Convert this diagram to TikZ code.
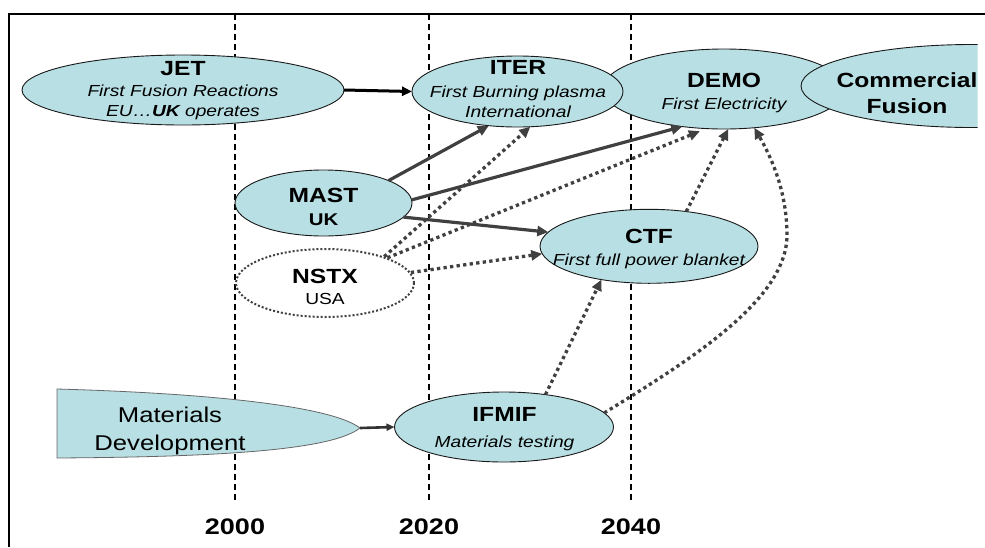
\documentclass[tikz,border=0pt]{standalone}
\usepackage{fontspec}
\setmainfont[FakeStretch=1.2]{Liberation Sans}
\usetikzlibrary{arrows.meta,shapes.geometric}
\definecolor{blobfill}{RGB}{184,224,228}
\definecolor{arrgray}{RGB}{64,64,64}
\newcommand\hd[1]{{\fontsize{20.5}{24}\selectfont\bfseries\upshape #1}}
\tikzset{
  blob/.style={ellipse, draw=black!90, line width=0.9pt, fill=blobfill, inner sep=0pt, outer sep=0pt},
  lbl/.style={align=center, inner sep=0pt, outer sep=0pt, font=\fontsize{16}{20}\selectfont\itshape},
  solidarr/.style={draw=arrgray, line width=3.2pt, -{Triangle[length=11pt,width=10pt]}},
  dotarr/.style={draw=arrgray, line width=3.3pt, dash pattern=on 3.3pt off 3.3pt, -{Triangle[length=11pt,width=10pt]}},
  gridline/.style={draw=black, line width=1.2pt, dash pattern=on 6pt off 4pt},
  yearlbl/.style={inner sep=0pt, font=\fontsize{22.5}{27}\selectfont\bfseries},
  framel/.style={draw=black, line width=2pt}
}
\begin{document}
\begin{tikzpicture}[x=1pt,y=-1pt]
\useasboundingbox (0,0) rectangle (985,547);
% frame
\draw[framel] (9,547) -- (9,14) -- (985,14);
% time grid
\draw[gridline] (235,14) -- (235,502);
\draw[gridline] (429,14) -- (429,502);
\draw[gridline] (631,14) -- (631,502);
\node[yearlbl] (y2000) at (235,527) {2000};
\node[yearlbl] (y2020) at (429,527) {2020};
\node[yearlbl] (y2040) at (631,527) {2040};

% top row
\node[blob, minimum width=242, minimum height=80] (demo) at (724,89) {};
\node[blob, minimum width=211, minimum height=71] (iter) at (517.5,91.5) {};
\begin{scope}
  \clip (790,30) rectangle (977.5,140);
  \node[blob, minimum width=342, minimum height=83] (comm) at (972,86) {};
\end{scope}
\node[blob, minimum width=322, minimum height=70] (jet) at (183,90) {};

% middle
\node[blob, minimum width=177, minimum height=66] (mast) at (323.5,203) {};
\node[ellipse, draw=arrgray, line width=2pt, dash pattern=on 2pt off 2pt, fill=white,
      inner sep=0pt, minimum width=178, minimum height=68] (nstx) at (325,283) {};
\node[blob, minimum width=218, minimum height=74] (ctf) at (649,246.3) {};

% bottom
\node[blob, minimum width=219, minimum height=70] (ifmif) at (504,427) {};
\fill[blobfill, draw=black!60, line width=0.8pt]
  (57,389) .. controls (200,393) and (330,405) .. (360,428)
  .. controls (330,452) and (200,457) .. (57,458) -- cycle;
\coordinate (mattip) at (360,428);

% texts
\node[lbl] (jett) at (183,90.3) {\hd{JET}\\[1.2pt]First Fusion Reactions\\EU…{\bfseries UK} operates};
\node[lbl] (itert) at (518,89) {\hd{ITER}\\[2.2pt]First Burning plasma\\International};
\node[lbl] (demot) at (724,92.7) {\hd{DEMO}\\[2.2pt]First Electricity};
\node[align=center, inner sep=0pt, font=\fontsize{20.5}{26}\selectfont\bfseries] (commt) at (907,93) {Commercial\\Fusion};
\node[lbl] (mastt) at (323.5,207.3) {\hd{MAST}\\[2.8pt]{\fontsize{17}{20}\selectfont\bfseries\upshape UK}};
\node[lbl] (nstxt) at (325,286.7) {\hd{NSTX}\\[1.4pt]{\upshape USA}};
\node[lbl] (ctft) at (649,248.8) {\hd{CTF}\\[2.2pt]First full power blanket};
\node[lbl] (ifmift) at (504.5,428.8) {\hd{IFMIF}\\[6.2pt]Materials testing};
\node[align=center, inner sep=0pt, font=\fontsize{21.4}{28}\selectfont] (matt) at (170,431) {Materials\\Development};

% connectors
\draw[draw=black, line width=3pt, -{Triangle[length=10pt,width=9pt]}] (jet.east) -- (iter.west);
\draw[solidarr] (mast.19) -- (iter.230);
\draw[solidarr] (mast.2) -- (demo.222);
\draw[solidarr] (mast.-10) -- (ctf.172);
\draw[dotarr] (nstx.24) -- (iter.290);
\draw[dotarr, shorten >=7pt] (nstx.22) -- (demo.246);
\draw[dotarr] (nstx.7) -- (ctf.184);
\draw[dotarr] (ctf.43) -- (demo.276);
\draw[dotarr] (ifmif.38) -- (ctf.215);
\draw[dotarr] (ifmif.8) .. controls (690,360) and (787,300) .. (787,235)
  .. controls (787,190) and (770,155) .. (demo.308);
\draw[draw=black!80, line width=2.6pt, -{Triangle[length=8pt,width=7pt]}] (mattip) -- (ifmif.west);
\end{tikzpicture}
\end{document}
